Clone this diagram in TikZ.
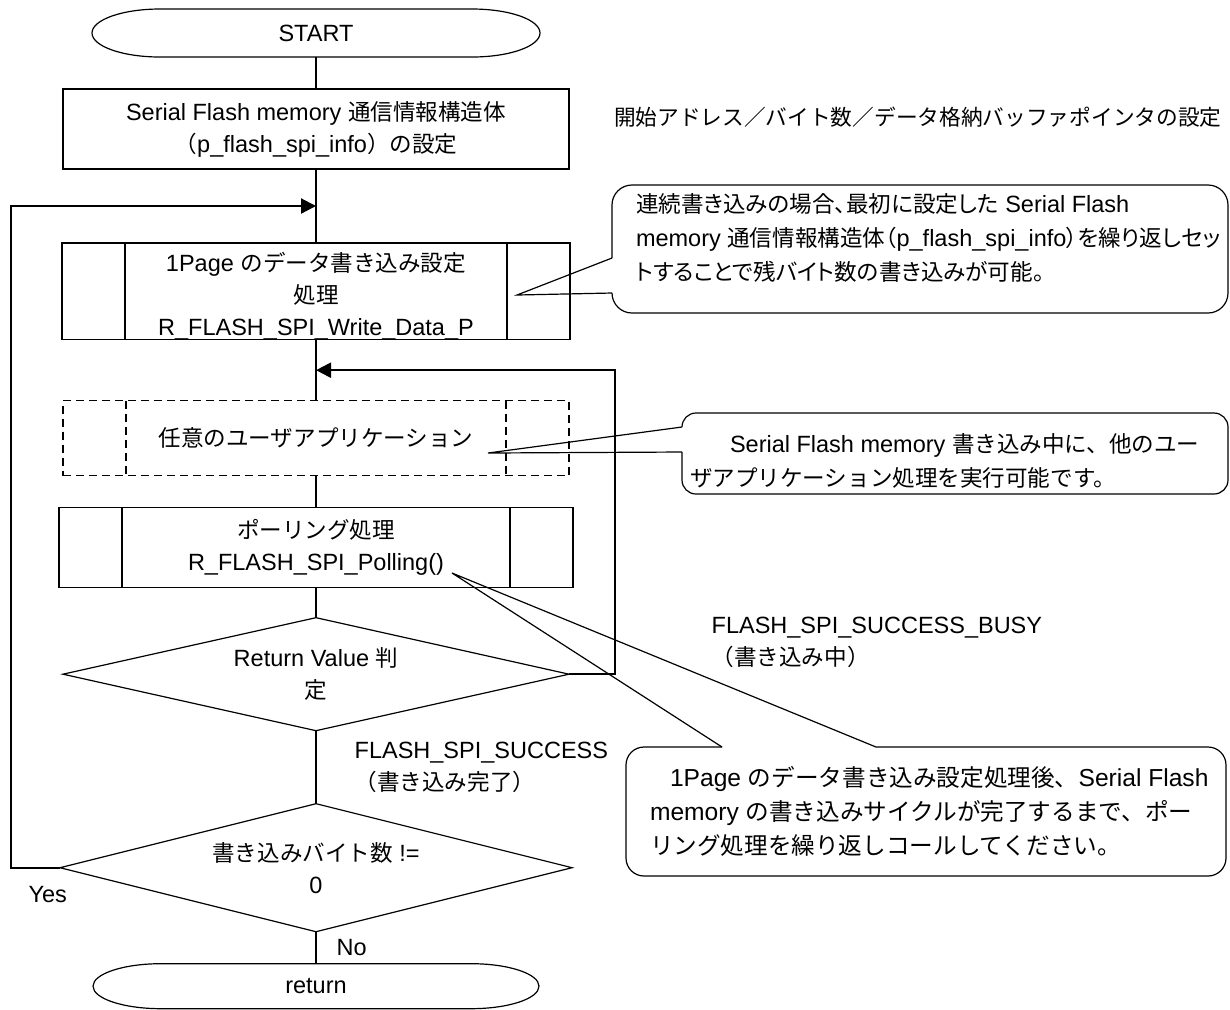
\documentclass[tikz,border=0pt]{standalone}
\usepackage{fontspec}
\setmainfont{Liberation Sans}
\newfontfamily\jpfont{Noto Sans CJK JP}[Scale=0.96]
\newfontfamily\jppfont{Noto Sans CJK JP}[Scale=0.96, RawFeature=+palt]
\newcommand{\ja}[1]{{\jpfont #1}}
\newcommand{\jap}[1]{{\jppfont #1}}
\usetikzlibrary{positioning, arrows.meta, shapes.geometric}

% terminal outline with flat elliptic ends
\newcommand{\termshape}[2]{%
  \draw ([xshift=34pt]#1.north west) -- ([xshift=-34pt]#1.north east)
    arc[start angle=90, end angle=-90, x radius=34pt, y radius=#2]
    -- ([xshift=34pt]#1.south west)
    arc[start angle=270, end angle=90, x radius=34pt, y radius=#2] -- cycle;}
% inner bars of a predefined process box
\newcommand{\sidebars}[2][]{%
  \draw[#1] ([xshift=31.5pt]#2.north west) -- ([xshift=31.5pt]#2.south west)
    ([xshift=-31.5pt]#2.north east) -- ([xshift=-31.5pt]#2.south east);}

\begin{document}
\begin{tikzpicture}[x=0.5pt, y=-0.5pt, line width=0.6pt, >={Triangle[length=7.5pt, width=7.5pt]},
        every node/.style = {font=\fontsize{11.75pt}{16pt}\selectfont, outer sep=0pt},
        term/.style = {inner sep=0pt, minimum width=224pt, minimum height=24pt},
        proc/.style = {draw, rectangle, minimum width=253pt, minimum height=40pt, align=center},
        dashbox/.style = {dash pattern=on 4pt off 2.5pt},
        dec/.style = {draw, diamond, aspect=4.5, inner sep=0pt, minimum width=253pt, minimum height=56.5pt, align=center},
        note/.style = {inner sep=0pt, align=left, font=\fontsize{11.75pt}{17pt}\selectfont},
        loop/.style = {line width=1.1pt},
        ]
        \useasboundingbox (0,0) rectangle (1230,1009);

        \node [term] (start) at (316,33) {START};
        \node [proc, below=16pt of start] (setup) {Serial Flash memory \ja{通信情報構造体}\\\ja{（}p\_flash\_spi\_info\ja{）の設定}};
        \node [proc, below=37pt of setup, minimum width=254pt, minimum height=48pt, inner sep=0pt] (write) {\rule{0pt}{14pt}1Page \ja{のデータ書き込み設定}\\\ja{処理}\\R\_FLASH\_SPI\_Write\_Data\_P};
        \node [proc, dashbox, below=30.5pt of write, minimum height=37.5pt] (userapp) {\ja{任意のユーザアプリケーション}};
        \node [proc, below=16pt of userapp, minimum width=257pt] (poll) {\ja{ポーリング処理}\\R\_FLASH\_SPI\_Polling()};
        \node [dec, below=15pt of poll] (result) {Return Value \ja{判}\\\ja{定}};
        \node [dec, below=36.5pt of result, minimum width=256pt, minimum height=64pt] (remain) {\ja{書き込みバイト数} !=\\0};
        \node [term, below=16pt of remain, minimum width=223pt, minimum height=22.5pt] (finish) {return};

        \termshape{start}{12pt}
        \termshape{finish}{11.25pt}
        \sidebars{write}
        \sidebars[dashbox]{userapp}
        \sidebars{poll}

        \draw (start) -- (setup);
        \draw (setup) -- coordinate (loopin) (write);
        \draw (write) -- coordinate (busyin) (userapp);
        \draw (userapp) -- (poll);
        \draw (poll) -- (result);
        \draw (result) -- node[right=16pt, align=left] {FLASH\_SPI\_SUCCESS\\\ja{（書き込み完了）}} (remain);
        \draw (remain) -- node[right=7pt] {No} (finish);
        \draw [loop, ->] (remain.west) -- node[below=6pt, pos=0.25] {Yes} ++(-24.5pt,0) |- (loopin);
        \draw [loop, ->] (result.east) -- ++(23pt,0)
            node[above right=0pt and 45pt, align=left] {FLASH\_SPI\_SUCCESS\_BUSY\\\ja{（書き込み中）}} |- (busyin);

        % notes on the right
        \node [anchor=west, inner sep=0pt, font=\fontsize{11.3pt}{16pt}\selectfont] (range) at (614,117) {\ja{開始アドレス／バイト数／データ格納バッファポインタの設定}};

        \node [note, anchor=west] (note1) at (636,238) {\jap{連続書き込みの場合、最初に設定した} Serial Flash\\memory \jap{通信情報構造体（}p\_flash\_spi\_info\jap{）を繰り返しセッ}\\\jap{トすることで残バイト数の書き込みが可能。}};
        \draw [rounded corners=10pt] (612,258) -- (612,185) -- (1228,185) -- (1228,313) -- (612,313) -- (612,293);
        \draw (612,258) -- (517,295) -- (612,293);

        \node [note, anchor=west] (note2) at (690,461) {\hspace*{20pt}Serial Flash memory \ja{書き込み中に、他のユー}\\\ja{ザアプリケーション処理を実行可能です。}};
        \draw [rounded corners=7pt] (682,427) -- (682,413) -- (1228,413) -- (1228,494) -- (682,494) -- (682,452);
        \draw (682,427) -- (488,453) -- (682,452);

        \node [note, anchor=west, font=\fontsize{12.3pt}{17pt}\selectfont] (note3) at (650,811) {\hspace*{10pt}1Page \ja{のデータ書き込み設定処理後、}Serial Flash\\memory \ja{の書き込みサイクルが完了するまで、ポー}\\\ja{リング処理を繰り返しコールしてください。}};
        \draw [rounded corners=9pt] (876,747) -- (1226,747) -- (1226,876) -- (626,876) -- (626,747) -- (722,747);
        \draw (722,747) -- (452,573) -- (876,747);
    \end{tikzpicture}
\end{document}
